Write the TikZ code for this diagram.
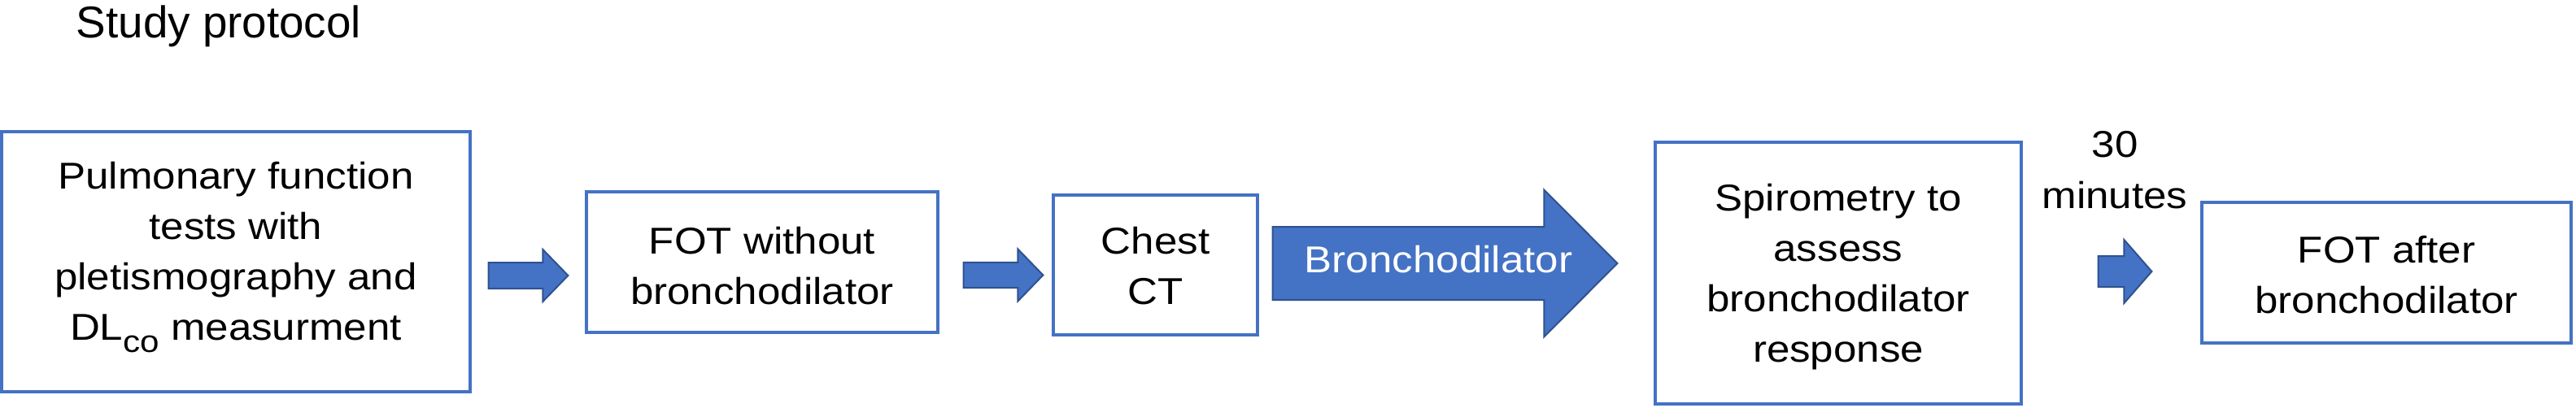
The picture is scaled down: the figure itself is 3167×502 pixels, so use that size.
\documentclass[tikz,border=0pt]{standalone}
\usepackage{fontspec}
\setmainfont{Liberation Sans}
\newfontfamily\boxfont[FakeStretch=1.11]{Liberation Sans}
\usetikzlibrary{calc}
\definecolor{boxblue}{HTML}{4472C4}
\definecolor{arrfill}{HTML}{4472C4}
\definecolor{arrline}{HTML}{2F528F}
\newcommand\blockarrow[5]{%
  \path[blockarr] let \p1=(#1), \p2=(#2) in
   (\x1,\y1+#3) -- (\x2-#5,\y1+#3) -- (\x2-#5,\y1+#4) -- (\x2,\y1)
   -- (\x2-#5,\y1-#4) -- (\x2-#5,\y1-#3) -- (\x1,\y1-#3) -- cycle;}
\begin{document}
\begin{tikzpicture}[x=0.25pt,y=-0.25pt,
  stepbox/.style={draw=boxblue, line width=0.8pt, fill=white, rectangle,
    inner sep=0pt, align=center, text depth=0pt,
    font=\boxfont\fontsize{11.5}{15.5}\selectfont},
  blockarr/.style={fill=arrfill, draw=arrline, line width=0.5pt},
  plain/.style={inner sep=0pt, font=\boxfont\fontsize{11.5}{15.75}\selectfont}]
\useasboundingbox (0,0) rectangle (3167,502);
\node[inner sep=0pt, anchor=base west, font=\fontsize{13.7}{16}\selectfont] (title) at (93,47) {Study protocol};
\node[stepbox, minimum width=144pt, minimum height=80pt, text height=48pt] (b1) at (290,322)
  {Pulmonary function\\tests with\\pletismography and\\DL\raisebox{-3.8pt}{\fontsize{9.5}{9.5}\selectfont co} measurment};
\node[stepbox, minimum width=108pt, minimum height=43.25pt, text height=25.75pt] (b2) at (937,322.5) {FOT without\\bronchodilator};
\node[stepbox, minimum width=62.75pt, minimum height=43pt, text height=24pt] (b3) at (1420.5,326) {Chest\\CT};
\node[stepbox, minimum width=112.5pt, minimum height=80.5pt, text height=54.5pt] (b4) at (2260,336) {Spirometry to\\assess\\bronchodilator\\response};
\node[stepbox, minimum width=113.5pt, minimum height=43.25pt, text height=24.75pt] (b5) at (2934,335.5) {FOT after\\bronchodilator};
% block arrows
\coordinate (a1s) at ($(b1.east)+(21,17)$);
\coordinate (a1e) at ($(b2.west)+(-21,16.5)$);
\blockarrow{a1s}{a1e}{4pt}{8pt}{7.75pt}
\coordinate (a2s) at ($(b2.east)+(30,16)$);
\coordinate (a2e) at ($(b3.west)+(-11,12.5)$);
\blockarrow{a2s}{a2e}{3.9pt}{8pt}{7.75pt}
\coordinate (a3s) at ($(b3.east)+(17,-2)$);
\coordinate (a3e) at ($(b4.west)+(-45,-12)$);
\blockarrow{a3s}{a3e}{11.25pt}{22.6pt}{22.5pt}
\node[plain, anchor=base, text=white] (bd) at (1768.5,335) {Bronchodilator};
\coordinate (a4s) at ($(b4.east)+(93,-2)$);
\coordinate (a4e) at ($(b5.west)+(-60,-1.5)$);
\blockarrow{a4s}{a4e}{4.75pt}{9.75pt}{8.5pt}
\node[plain, align=center, text height=18pt, text depth=0pt] (t30) at (2600,220) {30\\minutes};
\end{tikzpicture}
\end{document}
